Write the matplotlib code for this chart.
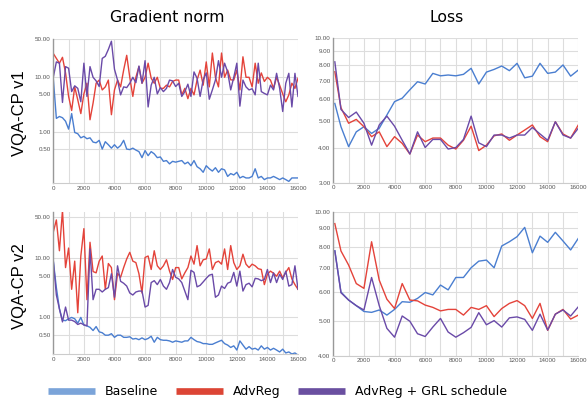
import numpy as np
import matplotlib.pyplot as plt
from matplotlib.lines import Line2D
from matplotlib.ticker import NullLocator

# gradient-norm logging steps (every 200 its) and loss eval steps
steps = np.arange(0, 16001, 200)
loss_steps = [100] + list(range(500, 16001, 500))

# --- VQA-CP v1, gradient norm ---
gn1_base = [9.5, 1.8, 1.95, 1.85, 1.6, 1.15, 2.2, 1.0, 0.95,
            0.8, 0.85, 0.77, 0.8, 0.67, 0.65, 0.72, 0.5, 0.68,
            0.6, 0.52, 0.6, 0.52, 0.58, 0.72, 0.5, 0.49, 0.52,
            0.48, 0.45, 0.35, 0.47, 0.38, 0.45, 0.41, 0.35, 0.36,
            0.30, 0.31, 0.27, 0.30, 0.29, 0.30, 0.31, 0.27, 0.29,
            0.25, 0.31, 0.24, 0.22, 0.19, 0.25, 0.22, 0.20, 0.23,
            0.19, 0.22, 0.21, 0.16, 0.18, 0.17, 0.19, 0.15, 0.16,
            0.15, 0.15, 0.16, 0.22, 0.15, 0.16, 0.14, 0.15, 0.15,
            0.16, 0.15, 0.14, 0.15, 0.14, 0.13, 0.15, 0.15, 0.15]
gn1_adv = [27, 22, 18, 23, 12, 4.5, 2.5, 6.7, 3.9, 2.2,
           5.0, 7.8, 1.7, 3.4, 7.8, 8.9, 5.9, 6.7, 8.9, 2.1,
           5.9, 8.9, 6.7, 13.5, 25, 10, 4.5, 10, 15.6, 7.8,
           10, 18, 9.6, 7.8, 10, 6.3, 6.3, 7.2, 6.7, 8.4,
           8.9, 8.9, 4.8, 6.3, 4.1, 6.3, 4.8, 8.9, 13.5, 7.2,
           19, 6.7, 27.5, 10, 6.7, 27.5, 10, 13.5, 9, 8.9,
           13.5, 5.9, 23.5, 10, 10, 6.7, 18, 7.8, 12, 8.4,
           10, 8.9, 6.3, 10, 7.2, 5, 3.6, 4.8, 7.8, 6.3,
           9.6]
gn1_grl = [10, 19, 18, 3.5, 15.6, 14.6, 5.5, 7, 6.3, 3.6,
           18, 4.5, 15.6, 10, 8.6, 6.8, 22, 24, 32, 45,
           14, 8.9, 4.8, 6.7, 6.5, 7.8, 10, 8, 16, 7.8,
           20, 2.9, 7.2, 10, 5, 6.5, 5.5, 6.3, 8.9, 8.6,
           6.8, 7.8, 4.5, 5.5, 7.5, 4.5, 12.5, 9.6, 4.5, 9,
           12, 4, 5.9, 8.9, 20, 10, 18, 12.5, 5.9, 10,
           18, 3, 8.9, 6.7, 5.9, 6.2, 4.8, 18, 5.5, 5.1,
           4.8, 7.2, 5.9, 11.8, 6.3, 2.4, 7.8, 11.8, 2.9, 11.8,
           4.5]

# --- VQA-CP v2, gradient norm ---
gn2_base = [9.1, 3.2, 1.4, 0.9, 0.88, 0.95, 1.0, 0.95, 0.8, 1.0,
            0.74, 0.72, 0.68, 0.6, 0.7, 0.57, 0.55, 0.5, 0.5, 0.53,
            0.46, 0.5, 0.5, 0.46, 0.46, 0.47, 0.43, 0.44, 0.42, 0.45,
            0.42, 0.44, 0.48, 0.38, 0.46, 0.42, 0.41, 0.41, 0.40, 0.38,
            0.40, 0.39, 0.38, 0.40, 0.40, 0.46, 0.42, 0.39, 0.38, 0.36,
            0.36, 0.35, 0.35, 0.37, 0.39, 0.41, 0.36, 0.34, 0.31, 0.33,
            0.28, 0.40, 0.34, 0.29, 0.32, 0.29, 0.30, 0.28, 0.33, 0.29,
            0.31, 0.28, 0.30, 0.28, 0.26, 0.29, 0.25, 0.26, 0.24, 0.25,
            0.23]
gn2_adv = [28, 45, 13.5, 65, 7, 15, 3, 9, 1.2, 11,
           32, 2.0, 18.8, 6, 5.7, 9, 11, 3, 8.2, 7,
           2, 5.6, 4.8, 7, 9.8, 12.7, 9, 8.5, 5.5, 2.6,
           10.4, 11, 6.5, 13.5, 7.5, 6.5, 7.5, 9.5, 6.1, 4.4,
           7, 7, 4.5, 5.7, 7, 11, 8, 16.5, 7.5, 9.5,
           9.8, 14.5, 6.5, 8.5, 9, 8, 14.5, 6.5, 16.5, 8.5,
           6.5, 7.5, 11.8, 8, 7, 8, 7.5, 6.7, 6.5, 3.6,
           5.4, 6.1, 5.6, 5, 6.1, 4.7, 5.8, 7, 4.5, 3.6,
           3]
gn2_grl = [9.1, 2.4, 1.4, 0.84, 1.5, 0.9, 0.9, 0.85, 0.76, 0.8,
           0.75, 0.72, 14.5, 2, 3, 3, 2.7, 3, 3.2, 5.5,
           2.2, 7.5, 4.1, 3.8, 3.4, 2.6, 2.4, 2.7, 2.8, 2.8,
           1.5, 1.6, 3.9, 4.2, 3.6, 4.4, 3.4, 3, 3.9, 6.5,
           4.8, 4.5, 3.9, 2.8, 2, 6.3, 5.8, 3.3, 3.5, 4,
           4.6, 5.2, 5.4, 2.2, 2.4, 3.4, 3.1, 3.8, 4, 5.8,
           3.4, 6.1, 2.8, 3.6, 3.8, 3.3, 4.6, 4.5, 4.2, 4.4,
           6.5, 3.9, 5.7, 3.9, 5.4, 4.4, 6.1, 3.4, 3.6, 7.5,
           3]

# --- losses ---
loss1_base = [5.8, 4.78, 4.05, 4.58, 4.78, 4.52, 4.72, 5.27, 5.89, 6.06,
              6.5, 6.95, 6.82, 7.45, 7.3, 7.35, 7.3, 7.39, 7.77, 6.82,
              7.53, 7.7, 7.92, 7.62, 8.1, 7.18, 7.28, 8.1, 7.45, 7.53,
              7.99, 7.28, 7.66]
loss1_adv = [7.55, 5.6, 4.92, 5.08, 4.78, 4.4, 4.58, 4.05, 4.4, 4.16,
             3.81, 4.46, 4.22, 4.35, 4.35, 4.1, 3.97, 4.27, 4.8, 3.92,
             4.1, 4.43, 4.5, 4.27, 4.46, 4.65, 4.85, 4.4, 4.22, 4.98,
             4.5, 4.35, 4.85]
loss1_grl = [8.2, 5.52, 5.16, 5.4, 4.92, 4.1, 4.85, 5.22, 4.8, 4.27,
             3.81, 4.58, 4.02, 4.3, 4.3, 3.97, 4.02, 4.3, 5.22, 4.18,
             4.05, 4.46, 4.46, 4.35, 4.46, 4.46, 4.75, 4.5, 4.27, 4.98,
             4.46, 4.35, 4.72]
loss2_base = [7.8, 6.0, 5.7, 5.5, 5.3, 5.27, 5.35, 5.18, 5.37, 5.64,
              5.62, 5.76, 5.98, 5.89, 6.27, 6.08, 6.58, 6.58, 7.0, 7.3,
              7.35, 7.0, 8.04, 8.26, 8.53, 9.05, 7.7, 8.56, 8.23, 8.77,
              8.3, 7.84, 8.44]
loss2_adv = [9.27, 7.79, 7.12, 6.33, 6.14, 8.26, 6.47, 5.73, 5.4, 6.33,
             5.7, 5.67, 5.52, 5.44, 5.32, 5.37, 5.37, 5.18, 5.44, 5.37,
             5.5, 5.13, 5.4, 5.58, 5.68, 5.5, 5.07, 5.58, 4.7, 5.21,
             5.37, 5.05, 5.18]
loss2_grl = [7.79, 5.97, 5.7, 5.5, 5.35, 6.58, 5.5, 4.76, 4.5, 5.15,
             4.98, 4.6, 4.52, 4.8, 5.07, 4.65, 4.5, 4.63, 4.79, 5.26,
             4.87, 5.0, 4.8, 5.09, 5.12, 5.04, 4.7, 5.21, 4.71, 5.21,
             5.35, 5.15, 5.46]

labels = ['Baseline', 'AdvReg', 'AdvReg + GRL schedule']
c_line = ['#4a7ed0', '#e4433a', '#6a4aa8']
c_leg = ['#7ba4d9', '#dc4535', '#6a4fa0']

W, H = 587, 401
fig = plt.figure(figsize=(W / 100, H / 100), dpi=100)


def px_axes(x0, x1, ytop, ybot):
    return fig.add_axes([x0 / W, 1 - ybot / H, (x1 - x0) / W, (ybot - ytop) / H])


def style(ax, ylim, yticks):
    ax.set_yscale('log')
    ax.set_xlim(0, 16000)
    ax.set_ylim(*ylim)
    ax.yaxis.set_minor_locator(NullLocator())
    ax.set_yticks(yticks, ['%.2f' % v for v in yticks])
    ax.set_xticks(range(0, 16001, 2000))
    ax.set_xticks(range(1000, 16000, 2000), minor=True)
    ax.grid(True, which='both', color='#dddddd', lw=0.8)
    ax.set_axisbelow(True)
    ax.tick_params(which='both', length=0, labelsize=4.5, colors='#555555', pad=2)
    for lab in ax.get_xticklabels() + ax.get_yticklabels():
        lab.set_family('Liberation Sans')
    for s in ['top', 'right']:
        ax.spines[s].set_visible(False)
    ax.spines['bottom'].set_color('#cccccc')
    ax.spines['left'].set_color('#999999')
    ax.spines['left'].set_linewidth(1.0)


def draw(ax, x, series):
    for ys, c in zip(series, c_line):
        ax.plot(x, ys, color=c, lw=1.0)


ax1 = px_axes(53.3, 298, 38.7, 183.3)
draw(ax1, steps, [gn1_base, gn1_adv, gn1_grl])
style(ax1, (0.12, 50), [0.5, 1, 5, 10, 50])

ax2 = px_axes(333.3, 578.3, 38, 182.7)
draw(ax2, loss_steps, [loss1_base, loss1_adv, loss1_grl])
style(ax2, (3, 10), [3, 4, 5, 6, 7, 8, 9, 10])

ax3 = px_axes(53.3, 298, 211.7, 354)
draw(ax3, steps, [gn2_base, gn2_adv, gn2_grl])
style(ax3, (0.24, 62), [0.5, 1, 5, 10, 50])

ax4 = px_axes(333.3, 578.3, 211.7, 355.7)
draw(ax4, loss_steps, [loss2_base, loss2_adv, loss2_grl])
style(ax4, (4, 10), [4, 5, 6, 7, 8, 9, 10])

# column titles and row labels
fig.text(167.5 / W, 1 - 17 / H, 'Gradient norm', ha='center', va='center',
         fontsize=11.3, family='DejaVu Sans')
fig.text(446.7 / W, 1 - 17 / H, 'Loss', ha='center', va='center',
         fontsize=11.3, family='DejaVu Sans')
fig.text(20 / W, 1 - 113 / H, 'VQA-CP v1', rotation=90, ha='center', va='center',
         fontsize=12, family='Liberation Sans')
fig.text(20 / W, 1 - 286.5 / H, 'VQA-CP v2', rotation=90, ha='center', va='center',
         fontsize=12, family='Liberation Sans')

handles = [Line2D([], [], color=c, lw=4.8, solid_capstyle='butt') for c in c_leg]
fig.legend(handles, labels, loc='center', bbox_to_anchor=(277.5 / W, 1 - 391.5 / H),
           ncol=3, frameon=False, fontsize=9, handlelength=3.76, handletextpad=0.8,
           columnspacing=1.44, borderpad=0, prop={'family': 'DejaVu Sans', 'size': 9})

fig.savefig('out.png', dpi=100)
